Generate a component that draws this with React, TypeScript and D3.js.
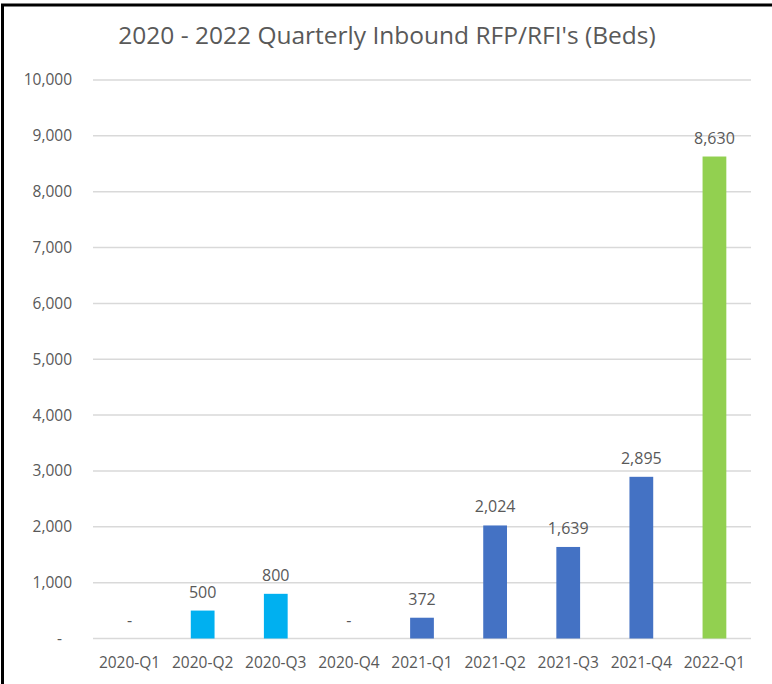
import React from "react";
import * as d3 from "d3";

const categories = ["2020-Q1", "2020-Q2", "2020-Q3", "2020-Q4", "2021-Q1", "2021-Q2", "2021-Q3", "2021-Q4", "2022-Q1"];
const values = [0, 500, 800, 0, 372, 2024, 1639, 2895, 8630];
const barColors = ["#00B0F0", "#00B0F0", "#00B0F0", "#00B0F0", "#4472C4", "#4472C4", "#4472C4", "#4472C4", "#92D050"];
const yTicks = [0, 1000, 2000, 3000, 4000, 5000, 6000, 7000, 8000, 9000, 10000];
const title = "2020 - 2022 Quarterly Inbound RFP/RFI's (Beds)";

const W = 772;
const H = 684;
const FONT = "'Open Sans', 'Noto Sans', sans-serif";
const TEXT = "#595959";

export default function App() {
  const left = 93;
  const right = 751;
  const top = 80;
  const bottom = 638.5;

  const x = d3.scaleBand<string>().domain(categories).range([left, right]).paddingInner(0.675).paddingOuter(0.3375);
  const y = d3.scaleLinear().domain([0, 10000]).range([bottom, top]);
  const fmt = (v: number) => (v === 0 ? "-" : d3.format(",")(v));

  return (
    <svg width={W} height={H} style={{ position: "absolute", left: 0, top: 0, background: "#fff" }}>
      <rect x={0} y={0} width={W} height={H} fill="#fff" />
      <line x1={2.5} x2={2.5} y1={4} y2={H} stroke="#000" strokeWidth={3} />
      <line x1={1} x2={W} y1={5} y2={5} stroke="#000" strokeWidth={3} />
      <text x={387} y={44} textAnchor="middle" fill={TEXT} fontFamily={FONT} fontSize={24.5}>
        {title}
      </text>
      {yTicks.map((t) => (
        <g key={t}>
          <line x1={left} x2={right} y1={y(t)} y2={y(t)} stroke="#D9D9D9" strokeWidth={1.5} />
          <text
            x={t === 0 ? 62 : 72}
            y={y(t)}
            dy="0.35em"
            textAnchor="end"
            fill={TEXT}
            fontFamily={FONT}
            fontSize={15.5}
          >
            {fmt(t)}
          </text>
        </g>
      ))}
      {categories.map((c, i) => (
        <g key={c}>
          {values[i] > 0 && (
            <rect x={x(c)} y={y(values[i])} width={x.bandwidth()} height={y(0) - y(values[i])} fill={barColors[i]} />
          )}
          <text
            x={(x(c) as number) + x.bandwidth() / 2}
            y={y(values[i]) - 13}
            textAnchor="middle"
            fill={TEXT}
            fontFamily={FONT}
            fontSize={16}
          >
            {fmt(values[i])}
          </text>
          <text
            x={(x(c) as number) + x.bandwidth() / 2}
            y={668}
            textAnchor="middle"
            fill={TEXT}
            fontFamily={FONT}
            fontSize={15.5}
          >
            {c}
          </text>
        </g>
      ))}
    </svg>
  );
}
